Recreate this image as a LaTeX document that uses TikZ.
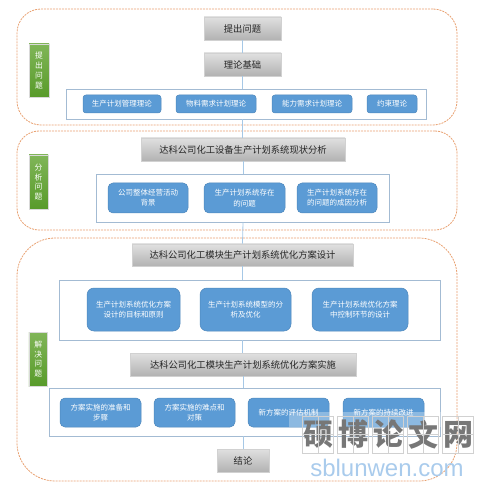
\documentclass[tikz,border=0pt]{standalone}
\usepackage{fontspec}
\setmainfont{Noto Sans CJK SC}
\newfontfamily\latinwm{Liberation Sans}
\usetikzlibrary{shapes.misc,shadows}
\definecolor{ink}{HTML}{262626}
\definecolor{dashorange}{HTML}{E8A070}
\definecolor{panelline}{HTML}{A3BBD3}
\definecolor{linkblue}{HTML}{A6C8E6}
\definecolor{boxblue}{HTML}{5B9BD5}
\definecolor{boxedge}{HTML}{4F88BC}
\definecolor{wmgray}{HTML}{777777}
\definecolor{wmblue}{HTML}{A9CBEC}
\tikzset{
  regionbox/.style={draw=dashorange,dash pattern=on 2pt off 1pt,line width=0.8pt,rounded corners=#1,inner sep=0pt},
  graybox/.style={draw=black!18,line width=0.6pt,top color=black!12,bottom color=black!30,text=ink,inner sep=0pt,font=\fontsize{9.3}{11}\selectfont},
  greenbox/.style={draw=black!15,line width=0.4pt,top color=green!35!black!10!lime!0!white!0,top color=green!25!black!0!white!0,top color={rgb,255:red,128;green,181;blue,88},bottom color={rgb,255:red,88;green,155;blue,42},text=white,inner sep=0pt,align=center,drop shadow={shadow xshift=0.5pt,shadow yshift=-1pt,opacity=0.35},font=\fontsize{7.8}{9.8}\selectfont},
  panelbox/.style={chamfered rectangle,chamfered rectangle corners={north east,south west},chamfered rectangle xsep=#1,chamfered rectangle ysep=#1,draw=panelline,line width=0.8pt,fill=white,inner sep=0pt},
  bluebox/.style={draw=boxedge,line width=0.5pt,fill=boxblue,text=white,rounded corners=#1,inner sep=0pt,align=center,font=\fontsize{7.5}{10.3}\selectfont},
  link/.style={draw=linkblue,line width=0.8pt}
}
\begin{document}
\begin{tikzpicture}[x=1pt,y=-1pt]
  \useasboundingbox (0,0) rectangle (491,487);
  \node[regionbox=24pt,minimum width=440,minimum height=116] (regionA) at (237,67) {};
  \node[regionbox=22pt,minimum width=440,minimum height=99] (regionB) at (237,180.5) {};
  \node[regionbox=38pt,minimum width=440,minimum height=243] (regionC) at (237,359.5) {};

  \node[greenbox,minimum width=20,minimum height=53] (tagA) at (39,70.5) {提\\出\\问\\题};
  \node[greenbox,minimum width=19,minimum height=54] (tagB) at (38.5,182) {分\\析\\问\\题};
  \node[greenbox,minimum width=18.5,minimum height=54] (tagC) at (38.2,359) {解\\决\\问\\题};

  \node[graybox,minimum width=77,minimum height=23] (propose) at (242.5,28.5) {提出问题};
  \node[graybox,minimum width=77,minimum height=23] (theory) at (242.5,64.5) {理论基础};
  \node[graybox,minimum width=204,minimum height=23] (status) at (243,149.5) {达科公司化工设备生产计划系统现状分析};
  \node[graybox,minimum width=221,minimum height=22] (design) at (242.5,255) {达科公司化工模块生产计划系统优化方案设计};
  \node[graybox,minimum width=226,minimum height=23] (apply) at (243,364.5) {达科公司化工模块生产计划系统优化方案实施};
  \node[graybox,minimum width=52,minimum height=23] (result) at (243,460.5) {结论};

  \node[panelbox=5pt,minimum width=360,minimum height=30] (panelA) at (246,104) {};
  \node[panelbox=8pt,minimum width=293,minimum height=48] (panelB) at (242.5,198) {};
  \node[panelbox=10pt,minimum width=381,minimum height=60] (panelC) at (249.5,310) {};
  \node[panelbox=8pt,minimum width=391,minimum height=48] (panelD) at (244.5,412) {};

  \draw[link] (propose.south) -- (theory.north);
  \draw[link] (theory.south) -- (theory.south |- panelA.north);
  \draw[link] (theory.south |- panelA.south) -- (status.north -| theory.south);
  \draw[link] (status.south) -- (status.south |- panelB.north);
  \draw[link] (status.south |- panelB.south) -- (design.north);
  \draw[link] (design.south) -- (design.south |- panelC.north);
  \draw[link] (design.south |- panelC.south) -- (design.south |- apply.north);
  \draw[link] (apply.south) -- (apply.south |- panelD.north);
  \draw[link] (apply.south |- panelD.south) -- (result.north);

  \node[bluebox=3pt,minimum width=78,minimum height=18] (planmgmt) at (122,104) {生产计划管理理论};
  \node[bluebox=3pt,minimum width=80,minimum height=18] (mrp) at (216,104) {物料需求计划理论};
  \node[bluebox=3pt,minimum width=80,minimum height=18] (crp) at (312,104) {能力需求计划理论};
  \node[bluebox=3pt,minimum width=50,minimum height=18] (toc) at (392,104) {约束理论};

  \node[bluebox=5pt,minimum width=80,minimum height=30] (background) at (148,198) {公司整体经营活动\\背景};
  \node[bluebox=5pt,minimum width=81,minimum height=30] (problem) at (244.5,198) {生产计划系统存在\\的问题};
  \node[bluebox=5pt,minimum width=80,minimum height=30] (cause) at (337,198) {生产计划系统存在\\的问题的成因分析};

  \node[bluebox=7pt,minimum width=93,minimum height=43] (goal) at (133.5,309.5) {生产计划系统优化方案\\设计的目标和原则};
  \node[bluebox=7pt,minimum width=91,minimum height=43] (model) at (245.5,309.5) {生产计划系统模型的分\\析及优化};
  \node[bluebox=7pt,minimum width=96,minimum height=43] (control) at (360,309.5) {生产计划系统优化方案\\中控制环节的设计};

  \node[bluebox=5pt,minimum width=81,minimum height=29] (prepare) at (100.5,412.5) {方案实施的准备和\\步骤};
  \node[bluebox=5pt,minimum width=81,minimum height=29] (hard) at (194.5,412.5) {方案实施的难点和\\对策};
  \node[bluebox=5pt,minimum width=81,minimum height=29] (assess) at (288.5,412.5) {新方案的评估机制};
  \node[bluebox=5pt,minimum width=81,minimum height=29] (improve) at (383.5,412.5) {新方案的持续改进};

  \fill[white,opacity=0.3] (289,412) rectangle (457,427);
  \foreach \i/\c in {0/硕,1/博,2/论,3/文,4/网}{
    \node[draw=black!18,line width=0.5pt,minimum size=31,minimum height=37,inner sep=0pt,text=wmgray,font=\fontsize{30}{32}\selectfont\bfseries] (mark\i) at (318+\i*35,434.5) {\c};
    \draw[black!18,line width=0.4pt] (mark\i.north) -- (mark\i.south);
    \draw[black!18,line width=0.4pt] (mark\i.west) -- (mark\i.east);
  }
  \node[text=wmblue,inner sep=0pt,font=\latinwm\fontsize{24}{26}\selectfont] (site) at (387,468) {sblunwen.com};
\end{tikzpicture}
\end{document}
